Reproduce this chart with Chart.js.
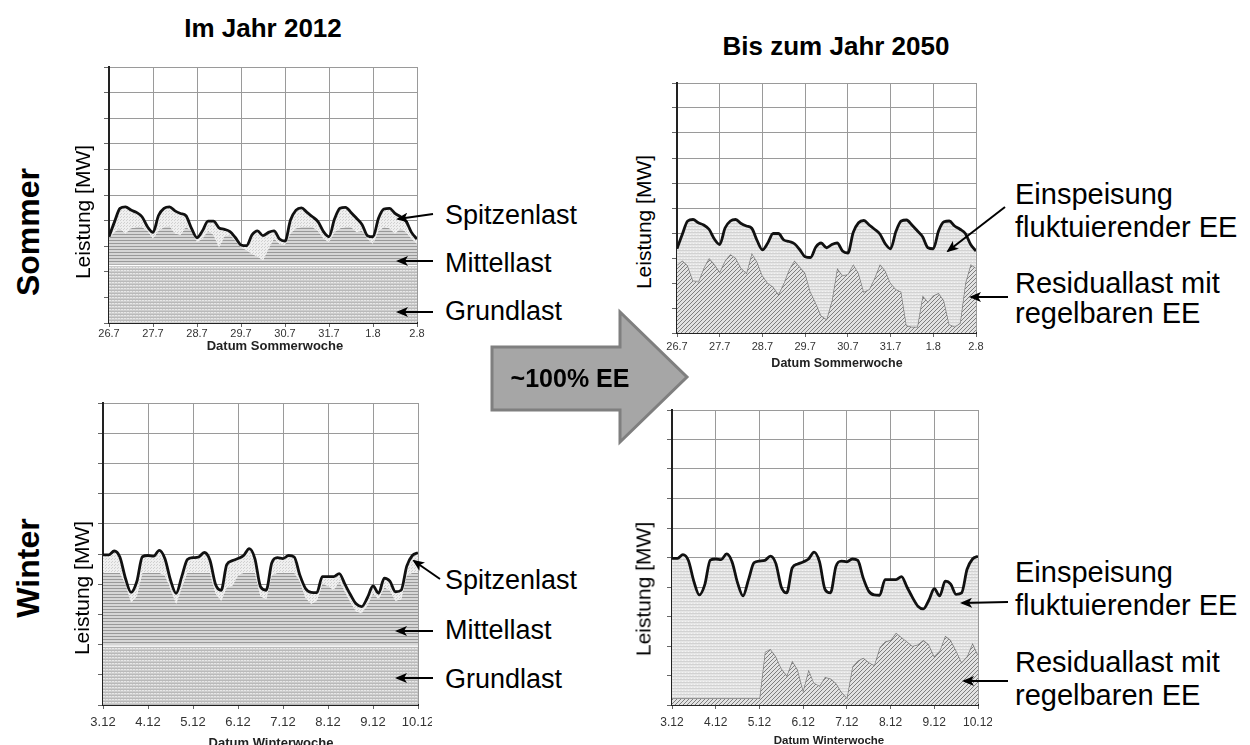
<!DOCTYPE html>
<html>
<head>
<meta charset="utf-8">
<script src="https://cdn.jsdelivr.net/npm/chart.js@4/dist/chart.umd.min.js"></script>
<style>
  body { margin: 0; width: 1250px; height: 745px; background: #fff; overflow: hidden; position: relative;
         font-family: Arial, "Liberation Sans", Helvetica, sans-serif; color: #000; }
  canvas { position: absolute; }
  .t { position: absolute; white-space: nowrap; line-height: 1; }
  .c { transform: translate(-50%, -50%); }
  .r { transform: translate(-50%, -50%) rotate(-90deg); }
  .b { font-weight: bold; }
  .ann { font-size: 27px; }
  .ann2 { font-size: 29px; }
  svg { position: absolute; left: 0; top: 0; pointer-events: none; }
</style>
</head>
<body>
<canvas id="sommer2012"></canvas>
<canvas id="sommer2050"></canvas>
<canvas id="winter2012"></canvas>
<canvas id="winter2050"></canvas>

<div class="t c b" style="left:263px;top:28px;font-size:26px">Im Jahr 2012</div>
<div class="t c b" style="left:836px;top:46px;font-size:26px">Bis zum Jahr 2050</div>
<div class="t r b" style="left:28px;top:232px;font-size:32px">Sommer</div>
<div class="t r b" style="left:28px;top:568px;font-size:32px">Winter</div>

<div class="t r" style="left:82px;top:212px;font-size:21px">Leistung [MW]</div>
<div class="t r" style="left:643px;top:222px;font-size:21px">Leistung [MW]</div>
<div class="t r" style="left:81px;top:588px;font-size:21px">Leistung [MW]</div>
<div class="t r" style="left:643px;top:589px;font-size:21px">Leistung [MW]</div>

<div class="t c b" style="left:275px;top:345px;font-size:13px;color:#222">Datum Sommerwoche</div>
<div class="t c b" style="left:837px;top:363px;font-size:12.5px;color:#222">Datum Sommerwoche</div>
<div class="t c b" style="left:271px;top:742px;font-size:13px;color:#222">Datum Winterwoche</div>
<div class="t c b" style="left:829px;top:741px;font-size:11.5px;color:#222">Datum Winterwoche</div>

<div class="t ann" style="left:445px;top:202px">Spitzenlast</div>
<div class="t ann" style="left:445px;top:250px">Mittellast</div>
<div class="t ann" style="left:445px;top:298px">Grundlast</div>
<div class="t ann" style="left:445px;top:567px">Spitzenlast</div>
<div class="t ann" style="left:445px;top:617px">Mittellast</div>
<div class="t ann" style="left:445px;top:666px">Grundlast</div>

<div class="t ann2" style="left:1015px;top:180px">Einspeisung</div>
<div class="t ann2" style="left:1015px;top:213px">fluktuierender EE</div>
<div class="t ann2" style="left:1015px;top:269px">Residuallast mit</div>
<div class="t ann2" style="left:1015px;top:299px">regelbaren EE</div>
<div class="t ann2" style="left:1015px;top:558px">Einspeisung</div>
<div class="t ann2" style="left:1015px;top:591px">fluktuierender EE</div>
<div class="t ann2" style="left:1015px;top:648px">Residuallast mit</div>
<div class="t ann2" style="left:1015px;top:681px">regelbaren EE</div>

<svg width="1250" height="745">
  <defs>
    <marker id="head" markerWidth="12" markerHeight="10" refX="10" refY="5" orient="auto" markerUnits="userSpaceOnUse">
      <path d="M0,0 L12,5 L0,10 L3,5 z" fill="#000"/>
    </marker>
  </defs>
  <polygon points="492,347 620,347 620,312 687,377 620,442 620,410 492,410" fill="#a6a6a6" stroke="#7f7f7f" stroke-width="3"/>
  <g stroke="#000" stroke-width="2" marker-end="url(#head)">
    <line x1="433" y1="214" x2="398" y2="219"/>
    <line x1="433" y1="261" x2="398" y2="261"/>
    <line x1="433" y1="312" x2="398" y2="312"/>
    <line x1="440" y1="579" x2="414" y2="561"/>
    <line x1="433" y1="631" x2="397" y2="631"/>
    <line x1="433" y1="678" x2="397" y2="678"/>
    <line x1="1005" y1="207" x2="948" y2="251"/>
    <line x1="1008" y1="297" x2="971" y2="297"/>
    <line x1="1008" y1="602" x2="962" y2="603"/>
    <line x1="1008" y1="681" x2="964" y2="681"/>
  </g>
</svg>
<div class="t c b" style="left:570px;top:378px;font-size:25px">~100% EE</div>

<script>
// Lastgang einer Sommer- und einer Winterwoche, Werte in Kästchen (0-10), alle 3 Stunden
const summerTicks = ["26.7", "27.7", "28.7", "29.7", "30.7", "31.7", "1.8", "2.8"];
const winterTicks = ["3.12", "4.12", "5.12", "6.12", "7.12", "8.12", "9.12", "10.12"];

const summerLoad = [
  3.37, 3.95, 4.48, 4.54, 4.41, 4.32, 4.15, 3.76,
  3.54, 4.2, 4.48, 4.54, 4.38, 4.28, 4.19, 3.7,
  3.33, 3.6, 3.98, 3.98, 3.72, 3.66, 3.57, 3.33,
  3.05, 3.02, 3.44, 3.6, 3.41, 3.54, 3.6, 3.28,
  3.2, 4.02, 4.41, 4.5, 4.32, 4.15, 3.96, 3.57,
  3.37, 4.06, 4.48, 4.52, 4.32, 4.09, 3.85, 3.41,
  3.37, 4.09, 4.45, 4.48, 4.28, 4.15, 3.98, 3.54,
  3.28
];
const summerMittellast = [
  3.3, 3.55, 3.7, 3.5, 3.7, 3.75, 3.75, 3.6,
  3.3, 3.6, 3.75, 3.8, 3.5, 3.45, 3.75, 3.6,
  3.15, 3.3, 3.6, 3.45, 2.95, 3.4, 3.45, 3.2,
  2.95, 2.85, 2.7, 2.6, 2.45, 2.9, 3.3, 3.1,
  3.05, 3.5, 3.7, 3.75, 3.75, 3.75, 3.6, 3.3,
  3.15, 3.55, 3.7, 3.75, 3.75, 3.55, 3.6, 3.3,
  3.1, 3.6, 3.75, 3.7, 3.5, 3.7, 3.55, 3.3,
  3.1
];
const summerGrundlast = 2.25;
const summerResidual = [
  2.72, 2.9, 2.7, 2.1, 2.05, 2.6, 3.0, 2.75,
  2.45, 2.9, 3.15, 3.0, 2.6, 2.4, 3.2, 2.85,
  2.3, 2.0, 1.85, 1.55, 2.0, 2.55, 2.9, 2.65,
  2.4, 1.65, 1.2, 0.7, 0.55, 1.3, 2.6, 2.3,
  2.35, 2.75, 2.4, 1.65, 1.75, 2.2, 2.75, 2.5,
  2.0, 1.75, 1.65, 0.3, 0.25, 0.25, 1.5, 1.25,
  1.5, 1.6, 1.3, 0.35, 0.25, 0.4, 2.0, 2.75,
  2.6
];

const winterLoad = [
  4.97, 4.97, 5.1, 4.9, 4.19, 3.73, 4.08, 4.91,
  4.95, 4.93, 5.12, 4.85, 4.14, 3.7, 4.25, 4.82,
  4.88, 4.9, 5.05, 4.8, 4.0, 3.8, 4.65, 4.78,
  4.85, 4.95, 5.18, 4.85, 3.92, 3.8, 4.7, 4.88,
  4.85, 4.95, 4.9, 4.3, 3.86, 3.73, 3.72, 4.25,
  4.25, 4.25, 4.35, 4.0, 3.65, 3.35, 3.26, 3.55,
  3.94, 3.7, 4.2, 4.1, 3.75, 3.8, 4.6, 4.95,
  5.04
];
const winterMittellast = [
  4.38, 4.38, 4.38, 4.38, 4.0, 3.4, 3.6, 4.38,
  4.38, 4.38, 4.38, 4.3, 3.85, 3.35, 3.9, 4.38,
  4.38, 4.38, 4.38, 4.38, 3.7, 3.45, 3.9, 3.95,
  4.3, 4.38, 4.38, 4.38, 3.6, 3.5, 4.3, 4.38,
  4.38, 4.38, 4.38, 4.1, 3.55, 3.35, 3.45, 4.0,
  3.95, 3.8, 4.1, 3.75, 3.4, 3.1, 3.05, 3.3,
  3.7, 3.5, 3.9, 3.8, 3.45, 3.5, 4.3, 4.38,
  4.38
];
const winterGrundlast = 1.95;
const winterResidual = [
  0.23, 0.23, 0.23, 0.23, 0.23, 0.23, 0.23, 0.23,
  0.23, 0.23, 0.23, 0.23, 0.23, 0.23, 0.23, 0.23,
  0.23, 1.8, 1.9, 1.65, 1.25, 1.0, 1.5, 1.2,
  0.5, 1.2, 0.75, 0.65, 0.95, 0.9, 0.75, 0.45,
  0.25, 1.3, 1.5, 1.6, 1.45, 1.35, 1.95, 2.15,
  2.2, 2.45, 2.3, 2.15, 2.0, 2.05, 2.2, 2.05,
  1.65, 1.85, 2.35, 2.2, 1.85, 1.45, 1.65, 2.1,
  1.7
];

// Zeitachse in Tagen (3-Stunden-Schritte)
const times = summerLoad.map((v, i) => i / 8);
const pts = (vals) => vals.map((y, i) => ({ x: times[i], y: y }));
const flat = (y) => [{ x: 0, y: y }, { x: 7, y: y }];

const fontFamily = 'Arial, "Liberation Sans", Helvetica, sans-serif';

function makePattern(w, h, draw) {
  const c = document.createElement("canvas");
  c.width = w;
  c.height = h;
  const g = c.getContext("2d");
  draw(g);
  return g.createPattern(c, "repeat");
}

const grundPattern = makePattern(6, 3, (g) => {
  g.fillStyle = "#cdcdcd";
  g.fillRect(0, 0, 6, 3);
  g.fillStyle = "#e8e8e8";
  g.fillRect(0, 0, 2, 1);
  g.fillRect(3, 0, 2, 1);
  g.fillStyle = "#b9b9b9";
  g.fillRect(0, 2, 6, 1);
});
const mittelPattern = makePattern(1, 3, (g) => {
  g.fillStyle = "#d6d6d6";
  g.fillRect(0, 0, 1, 3);
  g.fillStyle = "#999999";
  g.fillRect(0, 0, 1, 1);
});
const peakPattern = makePattern(3, 3, (g) => {
  g.fillStyle = "#efefef";
  g.fillRect(0, 0, 3, 3);
  g.fillStyle = "#d0d0d0";
  g.fillRect(0, 0, 1, 1);
  g.fillRect(2, 1, 1, 1);
});
const renewPattern = makePattern(3, 3, (g) => {
  g.fillStyle = "#e6e6e6";
  g.fillRect(0, 0, 3, 3);
  g.fillStyle = "#d2d2d2";
  g.fillRect(0, 0, 3, 1);
  g.fillStyle = "#f3f3f3";
  g.fillRect(1, 2, 1, 1);
});
const hatchPattern = makePattern(4, 4, (g) => {
  g.fillStyle = "#e2e2e2";
  g.fillRect(0, 0, 4, 4);
  g.fillStyle = "#7e7e7e";
  g.fillRect(3, 0, 1, 1);
  g.fillRect(2, 1, 1, 1);
  g.fillRect(1, 2, 1, 1);
  g.fillRect(0, 3, 1, 1);
});

function drawPanel(id, area, xLabels, tickSize, tickPad, datasets) {
  const canvas = document.getElementById(id);
  const padL = 10, padR = 14, padT = 4, padB = 2, axisW = 8, axisH = 28;
  canvas.width = area.r - area.l + padL + axisW + padR;
  canvas.height = area.b - area.t + padT + axisH + padB;
  canvas.style.left = area.l - padL - axisW + "px";
  canvas.style.top = area.t - padT + "px";

  new Chart(canvas.getContext("2d"), {
    type: "line",
    data: { datasets: datasets },
    options: {
      responsive: false,
      animation: false,
      layout: { padding: { left: padL, right: padR, top: padT, bottom: padB } },
      elements: { point: { radius: 0 } },
      plugins: { legend: { display: false }, tooltip: { enabled: false } },
      scales: {
        x: {
          type: "linear",
          min: 0,
          max: 7,
          ticks: {
            stepSize: 1,
            autoSkip: false,
            maxRotation: 0,
            padding: tickPad,
            color: "#333",
            font: { family: fontFamily, size: tickSize },
            callback: (v) => xLabels[v],
          },
          grid: { color: "#9a9a9a", lineWidth: 1, tickLength: 4, tickColor: "#666" },
          border: { color: "#222", width: 2 },
          afterFit: (s) => {
            s.height = axisH;
            s.paddingLeft = 0;
            s.paddingRight = 0;
          },
        },
        y: {
          min: 0,
          max: 10,
          ticks: { display: false, stepSize: 1 },
          grid: { color: "#9a9a9a", lineWidth: 1, tickLength: 5, tickColor: "#666" },
          border: { color: "#222", width: 2 },
          afterFit: (s) => {
            s.width = axisW;
          },
        },
      },
    },
  });
}

function loadSet(vals, fillPattern) {
  return {
    label: "Last",
    data: pts(vals),
    borderColor: "#111",
    borderWidth: 2.8,
    cubicInterpolationMode: "monotone",
    fill: "+1",
    backgroundColor: fillPattern,
    order: 0,
  };
}

function today(load, mittel, grund) {
  return [
    loadSet(load, peakPattern),
    {
      label: "Mittellast",
      data: pts(mittel),
      borderWidth: 0,
      borderColor: "rgba(0,0,0,0)",
      fill: { value: grund },
      backgroundColor: mittelPattern,
      order: 2,
    },
    {
      label: "Grundlast",
      data: flat(grund),
      borderColor: "#ffffff",
      borderWidth: 1.5,
      fill: "origin",
      backgroundColor: grundPattern,
      order: 1,
    },
  ];
}

function future(load, residual) {
  return [
    loadSet(load, renewPattern),
    {
      label: "Residuallast",
      data: pts(residual),
      borderColor: "#7a7a7a",
      borderWidth: 1.4,
      tension: 0,
      fill: "origin",
      backgroundColor: hatchPattern,
      order: 1,
    },
  ];
}

drawPanel("sommer2012", { l: 109, r: 417, t: 67, b: 323 }, summerTicks, 11, 0,
  today(summerLoad, summerMittellast, summerGrundlast));
drawPanel("sommer2050", { l: 677, r: 976, t: 83, b: 333 }, summerTicks, 11, 3,
  future(summerLoad, summerResidual));
drawPanel("winter2012", { l: 103, r: 418, t: 403, b: 705 }, winterTicks, 13, 6,
  today(winterLoad, winterMittellast, winterGrundlast));
drawPanel("winter2050", { l: 672, r: 978, t: 410, b: 705 }, winterTicks, 12, 6,
  future(winterLoad, winterResidual));
</script>
</body>
</html>
